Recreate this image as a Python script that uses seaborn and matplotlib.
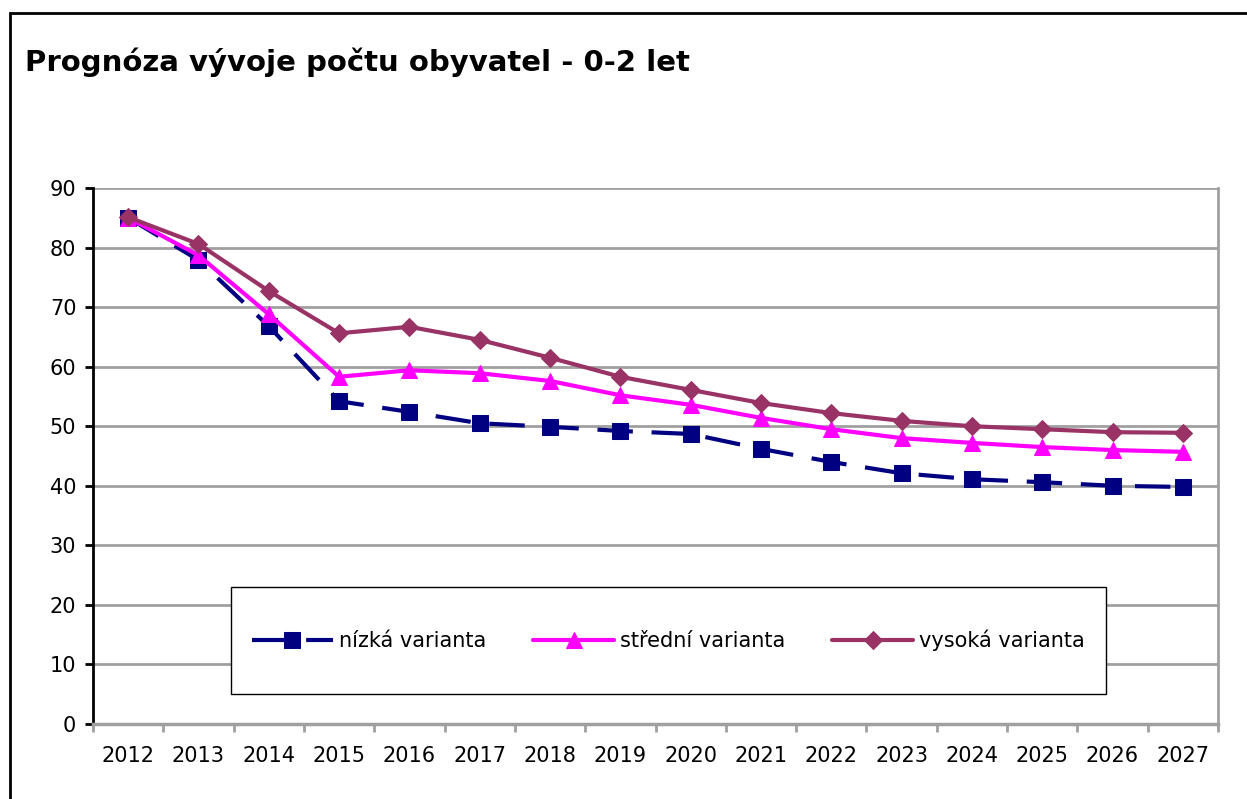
import matplotlib
matplotlib.use("Agg")
import matplotlib.pyplot as plt
import seaborn as sns
import numpy as np
from matplotlib.patches import Rectangle
from matplotlib.ticker import MultipleLocator, FixedLocator

years = list(range(2012, 2028))
nizka = [85.0, 77.9, 66.8, 54.2, 52.4, 50.5, 49.9, 49.2, 48.7, 46.2, 44.0, 42.1, 41.1, 40.6, 40.0, 39.8]
stredni = [85.0, 78.7, 68.8, 58.3, 59.4, 58.9, 57.6, 55.2, 53.6, 51.4, 49.5, 48.0, 47.2, 46.5, 46.0, 45.7]
vysoka = [85.1, 80.6, 72.7, 65.6, 66.7, 64.5, 61.5, 58.3, 56.1, 53.9, 52.2, 50.9, 50.0, 49.5, 49.0, 48.9]
labels = ["nízká varianta", "střední varianta", "vysoká varianta"]
title = "Prognóza vývoje počtu obyvatel - 0-2 let"

sns.set_theme(style="white")
plt.rcParams['font.family'] = ['DejaVu Sans']
plt.rcParams['text.color'] = 'black'
plt.rcParams['xtick.color'] = 'black'
plt.rcParams['ytick.color'] = 'black'
plt.rcParams['axes.labelcolor'] = 'black'

W, H = 1247, 799
fig = plt.figure(figsize=(W / 100, H / 100), dpi=100)
ax = fig.add_axes([93 / W, 1 - 724 / H, (1218 - 93) / W, (724 - 188) / H])

grid_c = "#a0a0a0"
sns.lineplot(x=years, y=nizka, ax=ax, color="#000080", marker="s", markersize=11,
             markeredgecolor="#000080", linewidth=3, linestyle=(0, (8.5, 4.5)), label=labels[0])
sns.lineplot(x=years, y=stredni, ax=ax, color="#FF00FF", marker="^", markersize=11,
             markeredgecolor="#FF00FF", linewidth=3, label=labels[1])
sns.lineplot(x=years, y=vysoka, ax=ax, color="#993366", marker="D", markersize=9,
             markeredgecolor="#993366", linewidth=3, label=labels[2])

ax.set_xlim(2011.5, 2027.5)
ax.set_ylim(0, 90)
ax.yaxis.set_major_locator(MultipleLocator(10))
ax.set_xticks(years)
ax.set_xticklabels([str(y) for y in years])
ax.xaxis.set_minor_locator(FixedLocator(np.arange(2011.5, 2028, 1)))
ax.tick_params(axis="x", which="major", length=0, pad=16, labelsize=15, labelcolor="black")
ax.tick_params(axis="x", which="minor", length=6, width=2, color=grid_c, direction="out", bottom=True)
ax.tick_params(axis="y", which="major", length=6, width=2, color="black", direction="out",
               left=True, labelsize=15, pad=6, labelcolor="black")

ax.yaxis.grid(True, color=grid_c, linewidth=2)
ax.xaxis.grid(False)
ax.set_axisbelow(True)
ax.spines["top"].set_visible(False)
ax.spines["left"].set_color("black")
ax.spines["left"].set_linewidth(2)
ax.spines["bottom"].set_color(grid_c)
ax.spines["bottom"].set_linewidth(2.5)
ax.spines["right"].set_color(grid_c)
ax.spines["right"].set_linewidth(2)
ax.set_xlabel("")
ax.set_ylabel("")

# legend box
x0 = (231 - 93) / 1125
x1 = (1106 - 93) / 1125
yb = (724 - 694) / 536
yt = (724 - 587) / 536
ax.add_patch(Rectangle((x0, yb), x1 - x0, yt - yb, transform=ax.transAxes,
                       facecolor="white", edgecolor="black", linewidth=1, zorder=5))
handles, labs = ax.get_legend_handles_labels()
leg = ax.legend(handles, labs, loc="center", bbox_to_anchor=(x0, yb, x1 - x0, yt - yb),
                mode="expand", ncol=3, fontsize=15, frameon=False, borderpad=1.0,
                handlelength=3.9, handletextpad=0.3, columnspacing=2.2, borderaxespad=0)
leg.set_zorder(6)
for t in leg.get_texts():
    t.set_color("black")

fig.text(25 / W, 1 - 62 / H, title, fontsize=21, fontweight="bold", ha="left", va="center",
         color="black")

fig.patches.append(Rectangle((10 / W, -0.1), 2, 1.1 - 13 / H, transform=fig.transFigure,
                             fill=False, edgecolor="black", linewidth=2))

fig.savefig("out.png", dpi=100)
